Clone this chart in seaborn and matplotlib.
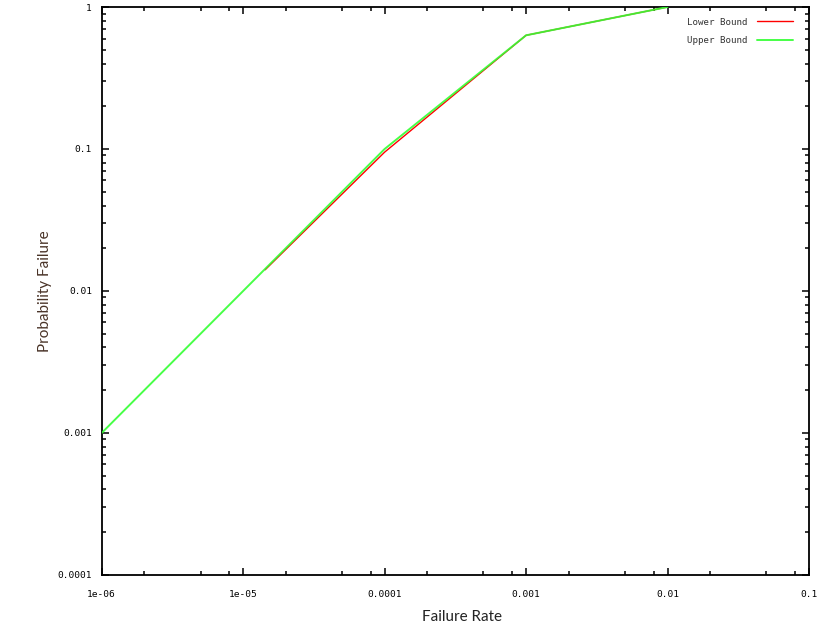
import numpy as np
import pandas as pd
import matplotlib
matplotlib.use("Agg")
import matplotlib.pyplot as plt
import seaborn as sns
from matplotlib.ticker import LogLocator, FixedLocator, FixedFormatter, NullFormatter

# failure rate vs. probability of failure
upper_rate = [1e-6, 1e-5, 1e-4, 1e-3, 1e-2]
upper_prob = [0.001, 0.01, 0.1, 0.632, 0.9999]

lower_rate = [1.43e-5, 1e-4, 1e-3, 1e-2]
lower_prob = [0.0141, 0.095, 0.632, 0.9999]

x_ticks = [1e-6, 1e-5, 1e-4, 1e-3, 1e-2, 1e-1]
x_labels = ["1e-06", "1e-05", "0.0001", "0.001", "0.01", "0.1"]
y_ticks = [1e-4, 1e-3, 1e-2, 1e-1, 1]
y_labels = ["0.0001", "0.001", "0.01", "0.1", "1"]

sns.set_style("white")
plt.rcParams['font.family'] = ['DejaVu Sans Mono', 'DejaVu Sans']

lower = pd.DataFrame({"rate": lower_rate, "prob": lower_prob})
upper = pd.DataFrame({"rate": upper_rate, "prob": upper_prob})

fig = plt.figure(figsize=(8.3, 6.43), dpi=100)
ax = fig.add_axes([0.1225, 0.1058, 0.8522, 0.8833])

sns.lineplot(data=lower, x="rate", y="prob", ax=ax, color="#ff0000",
             linewidth=1.0, label="Lower Bound", zorder=2)
sns.lineplot(data=upper, x="rate", y="prob", ax=ax, color="#33ff33",
             linewidth=1.4, alpha=0.9, label="Upper Bound", zorder=3)

ax.set_xscale("log")
ax.set_yscale("log")
ax.set_xlim(1e-6, 1e-1)
ax.set_ylim(1e-4, 1)

ax.xaxis.set_major_locator(FixedLocator(x_ticks))
ax.xaxis.set_major_formatter(FixedFormatter(x_labels))
ax.xaxis.set_minor_locator(LogLocator(base=10, subs=[2, 5, 8]))
ax.xaxis.set_minor_formatter(NullFormatter())
ax.yaxis.set_major_locator(FixedLocator(y_ticks))
ax.yaxis.set_major_formatter(FixedFormatter(y_labels))
ax.yaxis.set_minor_locator(LogLocator(base=10, subs=np.arange(2, 10)))
ax.yaxis.set_minor_formatter(NullFormatter())

ax.tick_params(which="both", direction="in", top=True, right=True,
               bottom=True, left=True, color="black", width=1.1)
ax.tick_params(which="major", length=5, labelsize=6.8, colors="black")
ax.tick_params(which="minor", length=3)
ax.tick_params(axis="x", which="major", pad=11)
ax.tick_params(axis="y", which="major", pad=7)

for s in ax.spines.values():
    s.set_color("black")
    s.set_linewidth(1.3)

ax.set_xlabel("Failure Rate", family=["Lato", "DejaVu Sans"], fontsize=11,
              color="#222222")
ax.xaxis.set_label_coords(0.51, -0.062)
ax.set_ylabel("Probability Failure", family=["Lato", "DejaVu Sans"],
              fontsize=11, color="#4a3428")
ax.yaxis.set_label_coords(-0.07, 0.5)

leg = ax.legend(loc="upper right", bbox_to_anchor=(0.983, 0.9877),
                frameon=False, markerfirst=False, fontsize=6.6,
                handlelength=4.0, handletextpad=1.0, labelspacing=1.0,
                borderaxespad=0.0)
for t in leg.get_texts():
    t.set_color("#333333")

fig.savefig("out.png", dpi=100)
